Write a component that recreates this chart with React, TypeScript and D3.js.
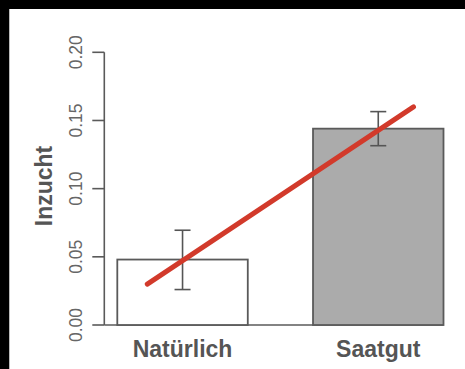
import * as React from 'react';
import * as d3 from 'd3';

// chart values
const categories = ['Natürlich', 'Saatgut'];
const means = [0.048, 0.144];
const errLow = [0.026, 0.1315];
const errHigh = [0.0695, 0.1565];
const barFills = ['#ffffff', '#ababab'];
const yTicks = [0, 0.05, 0.1, 0.15, 0.2];
// fitted trend line, x in category-index units
const trendX = [-0.18, 1.18];
const trendY = [0.030, 0.160];

const W = 465;
const H = 369;

export default function App() {
  const y = d3.scaleLinear().domain([0, 0.2]).range([325, 52.3]);
  const x = d3.scaleBand().domain(categories).range([117.3, 443.5]).paddingInner(1 / 3).paddingOuter(0);
  const bw = x.bandwidth();
  const centre = d3
    .scaleLinear()
    .domain([0, 1])
    .range([x(categories[0])! + bw / 2, x(categories[1])! + bw / 2]);
  const trend = d3
    .line<number>()
    .x((d, i) => centre(trendX[i]))
    .y((d) => y(d));
  const axisX = 104.3;
  const grey = '#5a5a5a';

  return (
    <div style={{ position: 'fixed', left: 0, top: 0 }}>
      <svg width={W} height={H} style={{ display: 'block' }} fontFamily="'Liberation Sans', Arial, sans-serif">
        <rect x={0} y={0} width={W} height={H} fill="#000" />
        <rect x={9} y={9} width={W - 9} height={H - 9} fill="#fff" />
        <line x1={9.5} x2={9.5} y1={9} y2={H} stroke="#bbb" />

        {/* y axis */}
        <line x1={axisX} x2={axisX} y1={y(0.2)} y2={y(0)} stroke={grey} strokeWidth={1.6} />
        {yTicks.map((t) => (
          <g key={t}>
            <line x1={axisX - 12} x2={axisX} y1={y(t)} y2={y(t)} stroke={grey} strokeWidth={1.6} />
            <text
              transform={`translate(82,${y(t)}) rotate(-90)`}
              textAnchor="middle"
              fontSize={17.5}
              fill="#666"
            >
              {t.toFixed(2)}
            </text>
          </g>
        ))}
        <text
          transform={`translate(52,${186}) rotate(-90)`}
          textAnchor="middle"
          fontSize={23}
          fontWeight="bold"
          fill="#555"
        >
          Inzucht
        </text>

        {/* baseline */}
        <line x1={axisX} x2={x(categories[1])! + bw} y1={y(0)} y2={y(0)} stroke={grey} strokeWidth={1.6} />

        {/* bars */}
        {categories.map((c, i) => (
          <rect
            key={c}
            x={x(c)}
            y={y(means[i])}
            width={bw}
            height={y(0) - y(means[i])}
            fill={barFills[i]}
            stroke={grey}
            strokeWidth={1.8}
          />
        ))}

        {/* error bars */}
        {categories.map((c, i) => {
          const cx = x(c)! + bw / 2;
          return (
            <g key={c} stroke="#555" strokeWidth={1.6}>
              <line x1={cx} x2={cx} y1={y(errHigh[i])} y2={y(errLow[i])} />
              <line x1={cx - 8} x2={cx + 8} y1={y(errHigh[i])} y2={y(errHigh[i])} />
              <line x1={cx - 8} x2={cx + 8} y1={y(errLow[i])} y2={y(errLow[i])} />
            </g>
          );
        })}

        {/* category labels */}
        {categories.map((c) => (
          <text
            key={c}
            x={x(c)! + bw / 2}
            y={357}
            textAnchor="middle"
            fontSize={23}
            fontWeight="bold"
            fill="#555"
          >
            {c}
          </text>
        ))}

        <path d={trend(trendY) ?? ''} stroke="#d23a2b" strokeWidth={5} strokeLinecap="round" fill="none" />
      </svg>
    </div>
  );
}
